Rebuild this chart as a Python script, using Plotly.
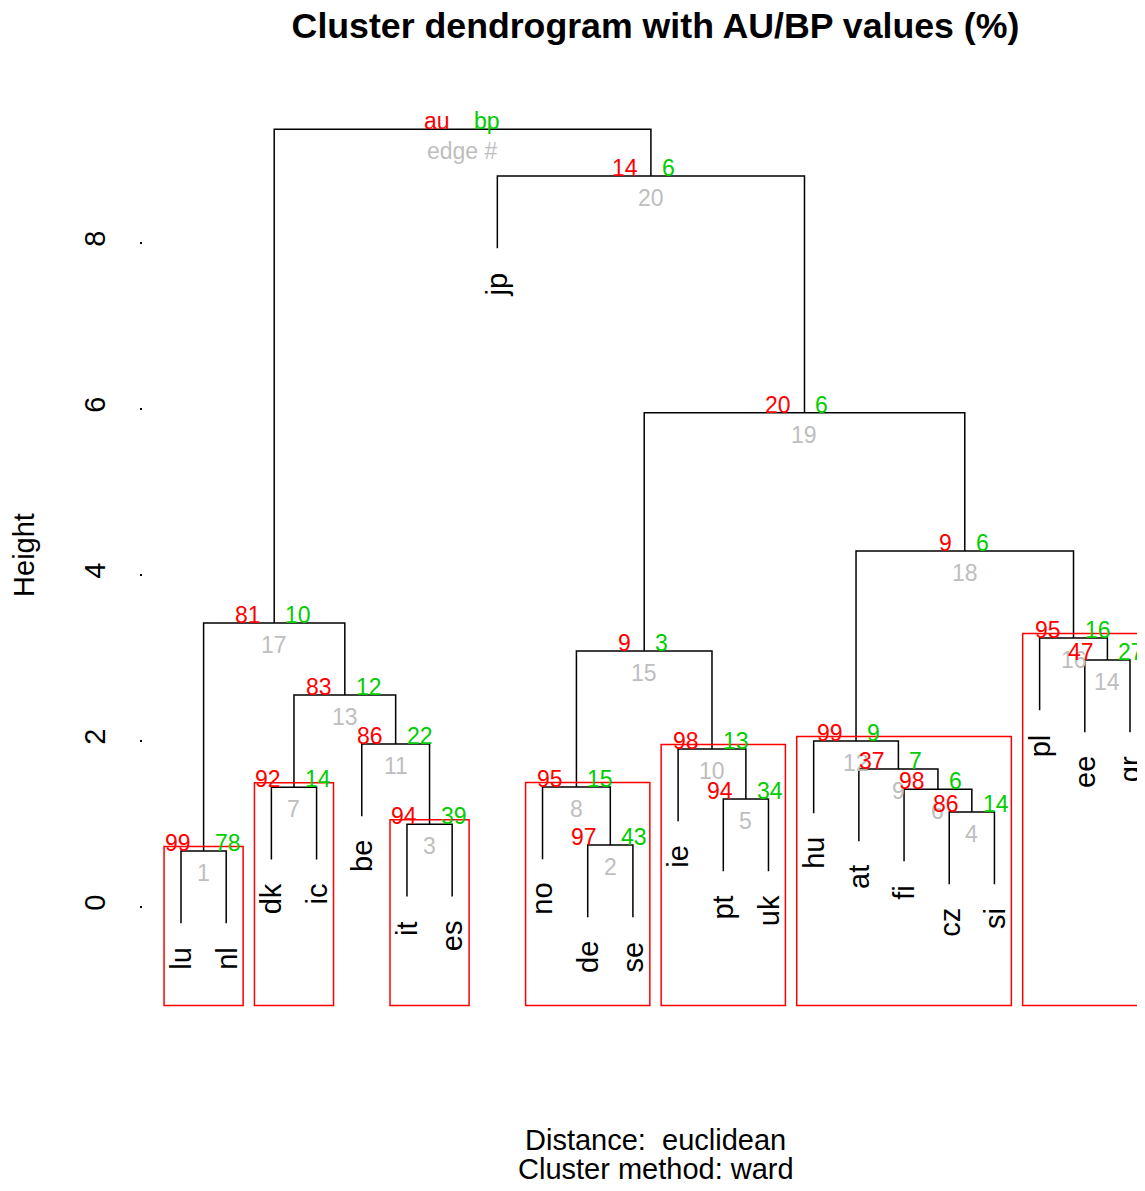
import plotly.graph_objects as go

# ---------------- data ----------------
leaf_order = ["lu", "nl", "dk", "ic", "be", "it", "es", "jp", "no", "de", "se",
              "ie", "pt", "uk", "hu", "at", "fi", "cz", "si", "pl", "ee", "gr"]
# hclust-style merges (edge k joins merge_a[k] and merge_b[k]; ints = earlier edge #)
merge_a = ["lu", "de", "it", "cz", "pt", "fi", "dk", "no", "at", "ie", "be",
           "hu", 7, "ee", 8, "pl", 1, 12, 15, "jp", 17]
merge_b = ["nl", "se", "es", "si", "uk", 4, "ic", 2, 6, 5, 3,
           9, 11, "gr", 10, 14, 13, 16, 18, 19, 20]
heights = [0.675, 0.747, 0.996, 1.145, 1.300, 1.420, 1.442, 1.446, 1.663, 1.904,
           1.964, 2.000, 2.554, 2.976, 3.084, 3.241, 3.422, 4.289, 5.955, 8.807, 9.370]
au_values = [99, 97, 94, 86, 94, 98, 92, 95, 37, 98, 86, 99, 83, 47, 9, 95, 81, 9, 20, 14, None]
bp_values = [78, 43, 39, 14, 34, 6, 14, 15, 7, 13, 22, 9, 12, 27, 3, 16, 10, 6, 6, 6, None]
y_ticks = [0, 2, 4, 6, 8]
alpha = 0.90

title_text = "Cluster dendrogram with AU/BP values (%)"
xlab_text = "Distance:  euclidean"
sub_text = "Cluster method: ward"

# ---------------- style ----------------
FONT = "Liberation Sans, Arial, Helvetica, sans-serif"
OFF = 8  # page body margin compensation
W, H = 1145, 1183
PLOT_BOTTOM = 1010 - OFF
ML, MR, MT, MB = 143 - OFF, 0, 100 - OFF, H - PLOT_BOTTOM
XLIM = [0.159, 22.509]
YLIM = [-1.241, 9.723]
AU_COL, BP_COL, ED_COL = "#FF0000", "#00CD00", "#BEBEBE"

# ---------------- build tree ----------------
pos = {name: i + 1 for i, name in enumerate(leaf_order)}
hang = 0.1 * (max(heights) - min(heights))
node_x, members = {}, {}
line_x, line_y = [], []
leaf_end = {}
for k, h in enumerate(heights):
    cx, mem = [], []
    for c in (merge_a[k], merge_b[k]):
        if isinstance(c, str):
            x, y0 = pos[c], h - hang
            leaf_end[c] = y0
            mem.append(pos[c])
        else:
            x, y0 = node_x[c], heights[c - 1]
            mem += members[c]
        cx.append((x, y0))
    (xa, ya), (xb, yb) = cx
    line_x += [xa, xa, xb, xb, None]
    line_y += [ya, h, h, yb, None]
    node_x[k + 1] = (xa + xb) / 2
    members[k + 1] = mem

fig = go.Figure()
fig.add_trace(go.Scatter(x=line_x, y=line_y, mode="lines",
                         line=dict(color="black", width=1.5),
                         hoverinfo="skip", showlegend=False))

# ---------------- pvrect boxes ----------------
my = (YLIM[1] - YLIM[0]) / 200
mx = 0.375
used = set()
for k in range(len(heights) - 2, -1, -1):
    a = au_values[k]
    if a is not None and a >= alpha * 100:
        mem = members[k + 1]
        if not (set(mem) & used):
            fig.add_shape(type="rect", xref="x", yref="y",
                          x0=min(mem) - mx, x1=max(mem) + mx,
                          y0=YLIM[0] + my, y1=heights[k] + my,
                          line=dict(color="red", width=1.5))
        used |= set(mem)

# ---------------- annotations ----------------
ann = []
n_edges = len(heights)
for k in range(n_edges):
    root = (k == n_edges - 1)
    ann.append(dict(x=node_x[k + 1], y=heights[k], xref="x", yref="y",
                    text="edge #" if root else str(k + 1), showarrow=False,
                    xanchor="center", yanchor="top", yshift=-7,
                    font=dict(family=FONT, size=23, color=ED_COL)))
for k in range(n_edges):
    root = (k == n_edges - 1)
    ann.append(dict(x=node_x[k + 1], y=heights[k], xref="x", yref="y",
                    text="au" if root else str(au_values[k]), showarrow=False,
                    xanchor="right", yanchor="bottom", xshift=-11, yshift=-7,
                    font=dict(family=FONT, size=23, color=AU_COL)))
    ann.append(dict(x=node_x[k + 1], y=heights[k], xref="x", yref="y",
                    text="bp" if root else str(bp_values[k]), showarrow=False,
                    xanchor="left", yanchor="bottom", xshift=9, yshift=-7,
                    font=dict(family=FONT, size=23, color=BP_COL)))

for name in leaf_order:
    ann.append(dict(x=pos[name], y=leaf_end[name], xref="x", yref="y",
                    text=name, showarrow=False, textangle=-90,
                    xanchor="center", yanchor="top", yshift=-22,
                    font=dict(family=FONT, size=29, color="black")))

x_center = (1 + len(leaf_order)) / 2
def py(px):
    # reference pixel row -> paper y
    return (H - MB - (px - OFF)) / (H - MT - MB)
ann.append(dict(x=x_center, y=py(1140), xref="x", yref="paper", text=xlab_text,
                showarrow=False, xanchor="center", yanchor="middle",
                font=dict(family=FONT, size=29, color="black")))
ann.append(dict(x=x_center, y=py(1169), xref="x", yref="paper", text=sub_text,
                showarrow=False, xanchor="center", yanchor="middle",
                font=dict(family=FONT, size=29, color="black")))

plot_w = W - ML - MR
title_px = ML + (x_center - XLIM[0]) * plot_w / (XLIM[1] - XLIM[0])

fig.update_layout(
    width=W, height=H,
    margin=dict(l=ML, r=MR, t=MT, b=MB, pad=0),
    paper_bgcolor="white", plot_bgcolor="white",
    showlegend=False,
    title=dict(text="<b>" + title_text + "</b>", x=title_px / W, xref="container",
               xanchor="center", y=1 - (25 - OFF) / H, yref="container", yanchor="middle",
               font=dict(family=FONT, size=35.7, color="black")),
    xaxis=dict(range=XLIM, visible=False, showgrid=False, zeroline=False),
    yaxis=dict(range=YLIM, tickvals=y_ticks, ticktext=[str(v) for v in y_ticks],
               tickangle=-90, showgrid=False, zeroline=False, showline=False,
               ticks="outside", ticklen=2, tickwidth=2, tickcolor="black",
               ticklabelstandoff=23,
               tickfont=dict(family=FONT, size=29, color="black"),
               title=dict(text="Height", standoff=36,
                          font=dict(family=FONT, size=29, color="black"))),
    annotations=ann,
)

fig.write_html("out.html")
